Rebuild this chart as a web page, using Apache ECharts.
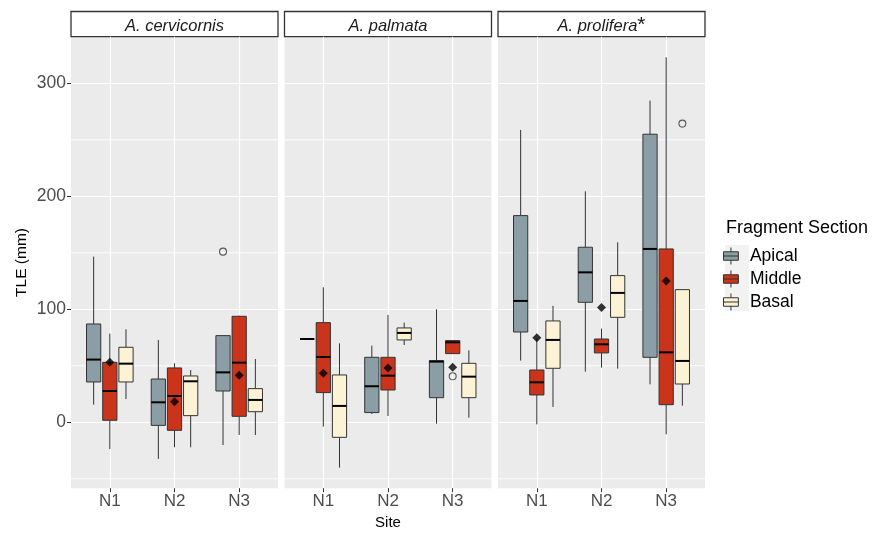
<!DOCTYPE html>
<html>
<head>
<meta charset="utf-8">
<script src="https://cdn.jsdelivr.net/npm/echarts@6/dist/echarts.min.js"></script>
<style>
  html, body { margin: 0; padding: 0; background: #fff; }
  #main { width: 873px; height: 534px; }
</style>
</head>
<body>
<div id="main"></div>
<script>
var sites = ['N1', 'N2', 'N3'];
var sections = ['Apical', 'Middle', 'Basal'];
var species = ['A. cervicornis', 'A. palmata', 'A. prolifera'];
var sectionColors = ['#8b9ea5', '#c9341b', '#fcf2d4'];

// [lower whisker, Q1, median, Q3, upper whisker] for N1, N2, N3
var cervApical = [[15.6, 35.7, 55.5, 87.0, 146.6], [-32.4, -2.7, 17.7, 38.3, 72.9], [-20.1, 27.7, 44.2, 76.7, 76.7]];
var cervMiddle = [[-23.6, 1.8, 27.7, 53.1, 78.5], [-22.1, -7.1, 23.3, 48.1, 52.2], [-11.2, 5.3, 52.8, 93.8, 94.4]];
var cervBasal  = [[20.6, 35.7, 51.9, 66.4, 82.3], [-22.1, 5.9, 36.3, 41.0, 46.3], [-11.2, 9.4, 19.8, 29.8, 56.0]];
var cervMeans = [53.1, 18.3, 41.6];
// [site index, section index, value]
var cervOutliers = [[2, 0, 151.0]];

var palmApical = [[73.7, 73.7, 73.7, 73.7, 73.7], [7.4, 8.6, 31.9, 57.5, 67.8], [-1.2, 21.8, 53.7, 54.6, 100.0]];
var palmMiddle = [[-3.8, 26.3, 57.8, 88.2, 119.5], [5.6, 28.6, 41.3, 57.5, 95.0], [60.8, 60.8, 70.8, 72.3, 72.3]];
var palmBasal  = [[-40.1, -13.3, 14.5, 41.9, 69.9], [68.4, 72.9, 79.1, 83.5, 88.2], [4.1, 21.8, 40.4, 52.2, 63.7]];
var palmMeans = [43.4, 48.1, 48.7];
var palmOutliers = [[2, 1, 40.7]];

var prolApical = [[54.6, 79.9, 107.4, 182.9, 258.7], [44.8, 106.2, 132.7, 154.9, 204.4], [33.6, 57.5, 153.4, 254.9, 284.7]];
var prolMiddle = [[-1.8, 24.2, 35.4, 46.3, 74.0], [48.4, 61.4, 69.0, 73.7, 82.9], [-10.6, 15.6, 61.9, 153.4, 323.0]];
var prolBasal  = [[13.6, 47.8, 72.9, 89.7, 103.0], [47.5, 92.9, 114.5, 129.8, 159.3], [14.7, 33.9, 54.3, 117.4, 117.4]];
var prolMeans = [74.9, 101.5, 125.1];
var prolOutliers = [[2, 2, 264.3]];

var yTicks = [0, 100, 200, 300];
var yMinorTicks = [-50, 50, 150, 250];
var yMin = -58.3, yMax = 341.2;
var xMin = 0.4, xMax = 3.6;

var panelBoxes = [[cervApical, cervMiddle, cervBasal], [palmApical, palmMiddle, palmBasal], [prolApical, prolMiddle, prolBasal]];
var panelMeans = [cervMeans, palmMeans, prolMeans];
var panelOutliers = [cervOutliers, palmOutliers, prolOutliers];

// dodge position of each section inside a site (x units)
var dodge = [-0.25, 0, 0.25];
var BOX_W = 0.22;

var panelLeft = [71, 284.5, 498];
var panelW = 207;
var panelTop = 36.7;
var panelH = 451.5;
var font = 'Liberation Sans, Arial, sans-serif';

var chart = echarts.init(document.getElementById('main'));

function makeBox(offset) {
  return function (params, api) {
    var x = api.value(0) + offset;
    var half = api.size([BOX_W, 0])[0] / 2;
    var lo = api.coord([x, api.value(1)]);
    var q1 = api.coord([x, api.value(2)]);
    var med = api.coord([x, api.value(3)]);
    var q3 = api.coord([x, api.value(4)]);
    var hi = api.coord([x, api.value(5)]);
    var cx = med[0];
    var line = { stroke: '#333', lineWidth: 1 };
    return {
      type: 'group',
      children: [
        { type: 'line', shape: { x1: cx, y1: hi[1], x2: cx, y2: q3[1] }, style: line },
        { type: 'line', shape: { x1: cx, y1: q1[1], x2: cx, y2: lo[1] }, style: line },
        { type: 'rect', shape: { x: cx - half, y: q3[1], width: half * 2, height: q1[1] - q3[1] },
          style: { fill: api.visual('color'), stroke: '#333', lineWidth: 1 } },
        { type: 'line', shape: { x1: cx - half, y1: med[1], x2: cx + half, y2: med[1] },
          style: { stroke: '#000', lineWidth: 2 } }
      ]
    };
  };
}

var grids = [], xAxes = [], yAxes = [], series = [], graphics = [];

panelLeft.forEach(function (left, p) {
  grids.push({
    left: left, top: panelTop, width: panelW, height: panelH,
    show: true, backgroundColor: '#ebebeb', borderWidth: 0,
    outerBoundsMode: 'none'
  });

  xAxes.push({
    gridIndex: p, type: 'value', min: xMin, max: xMax, splitNumber: 3,
    axisLine: { show: false, onZero: false },
    axisTick: { customValues: [1, 2, 3], length: 4, lineStyle: { color: '#333' } },
    axisLabel: {
      customValues: [1, 2, 3], color: '#4d4d4d', fontSize: 17, margin: 5,
      formatter: function (v) { return sites[Math.round(v) - 1] || ''; }
    },
    splitLine: { lineStyle: { color: '#fff', width: 1.2 } },
    name: p === 1 ? 'Site' : '', nameLocation: 'middle', nameGap: 27,
    nameTextStyle: { color: '#000', fontSize: 15 }
  });

  yAxes.push({
    gridIndex: p, type: 'value', min: yMin, max: yMax, splitNumber: 4,
    axisLine: { show: false, onZero: false },
    axisTick: { show: p === 0, customValues: yTicks, length: 4, lineStyle: { color: '#333' } },
    axisLabel: { show: p === 0, customValues: yTicks, color: '#4d4d4d', fontSize: 17.5, margin: 5 },
    splitLine: { lineStyle: { color: '#fff', width: 1.2 } },
    name: p === 0 ? 'TLE (mm)' : '', nameLocation: 'middle', nameGap: 41, nameRotate: 90,
    nameTextStyle: { color: '#000', fontSize: 15.5 }
  });

  // minor grid lines: one flat line series per break, across the whole panel
  yMinorTicks.forEach(function (v) {
    series.push({
      type: 'line', xAxisIndex: p, yAxisIndex: p, z: 1, silent: true,
      symbol: 'none', showSymbol: false, animation: false,
      lineStyle: { color: '#ffffff', width: 0.9 },
      emphasis: { disabled: true },
      data: [[xMin, v], [xMax, v]]
    });
  });

  sections.forEach(function (name, s) {
    series.push({
      type: 'custom', name: name, xAxisIndex: p, yAxisIndex: p, z: 3,
      itemStyle: { color: sectionColors[s] },
      renderItem: makeBox(dodge[s]),
      encode: { x: 0, y: [1, 2, 3, 4, 5] },
      data: panelBoxes[p][s].map(function (b, i) { return [i + 1].concat(b); })
    });
  });

  series.push({
    type: 'scatter', xAxisIndex: p, yAxisIndex: p, z: 5,
    symbol: 'diamond', symbolSize: 9, itemStyle: { color: '#000' },
    data: panelMeans[p].map(function (m, i) { return [i + 1, m]; })
  });

  series.push({
    type: 'scatter', xAxisIndex: p, yAxisIndex: p, z: 5,
    symbol: 'circle', symbolSize: 7,
    itemStyle: { color: 'transparent', borderColor: '#333', borderWidth: 1.1 },
    data: panelOutliers[p].map(function (o) { return [o[0] + 1 + dodge[o[1]], o[2]]; })
  });

  // facet strip
  graphics.push({
    type: 'rect', shape: { x: left, y: 11.5, width: panelW, height: panelTop - 11.5 },
    style: { fill: '#fff', stroke: '#333', lineWidth: 1.3 }
  });
  graphics.push({
    type: 'text', x: left + panelW / 2, y: (11 + panelTop) / 2 + 1,
    style: {
      text: p === 2 ? '{i|' + species[p] + '}{s|*}' : '{i|' + species[p] + '}',
      align: 'center', verticalAlign: 'middle',
      rich: {
        i: { fontFamily: font, fontStyle: 'italic', fontSize: 16.5, fill: '#1a1a1a', lineHeight: 20, verticalAlign: 'bottom' },
        s: { fontFamily: font, fontSize: 21, fill: '#1a1a1a', lineHeight: 14, verticalAlign: 'top' }
      }
    }
  });
});

// grey legend key background
graphics.push({
  type: 'rect', shape: { x: 725, y: 245, width: 24, height: 66 },
  style: { fill: '#f2f2f2' }, z: -1
});

var option = {
  animation: false,
  textStyle: { fontFamily: font },
  title: {
    text: 'Fragment Section', left: 726, top: 219, padding: 0,
    textStyle: { fontSize: 18, fontWeight: 'normal', color: '#000', fontFamily: font }
  },
  legend: {
    orient: 'vertical', left: 723, top: 247, padding: 0,
    itemWidth: 28, itemHeight: 17, itemGap: 5, selectedMode: false,
    textStyle: { fontSize: 17.5, color: '#000', fontFamily: font },
    data: sections.map(function (n, i) {
      return {
        name: n,
        icon: 'path://M7,0V4M0,4H14V12H0ZM0,8H14M7,12V16',
        itemStyle: { color: sectionColors[i], borderColor: '#333', borderWidth: 1 }
      };
    })
  },
  grid: grids,
  xAxis: xAxes,
  yAxis: yAxes,
  series: series,
  graphic: graphics
};

chart.setOption(option);
</script>
</body>
</html>
